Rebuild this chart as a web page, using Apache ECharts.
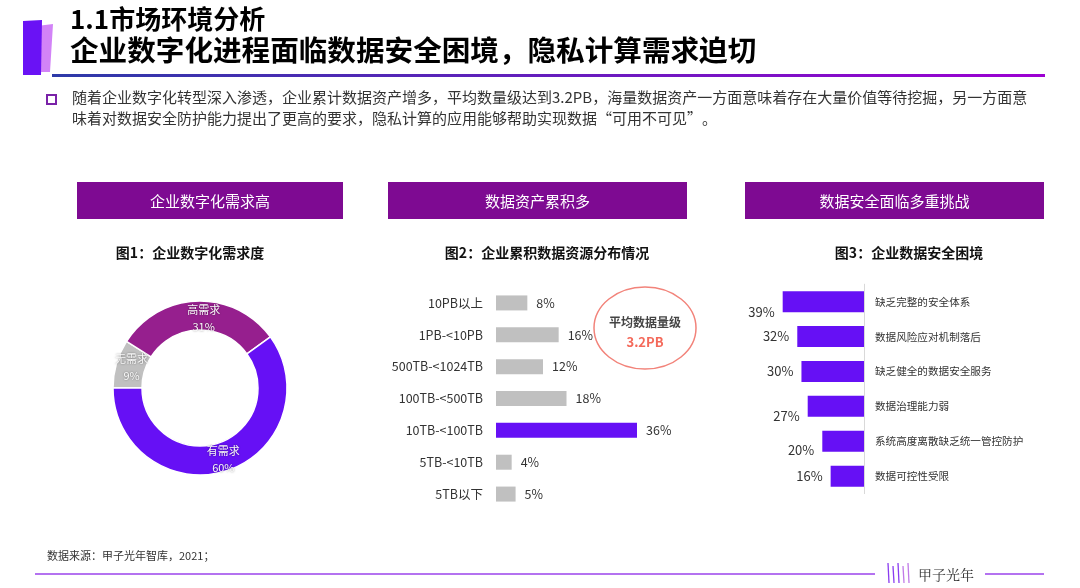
<!DOCTYPE html>
<html><head><meta charset="utf-8">
<script src="https://cdn.jsdelivr.net/npm/echarts@6/dist/echarts.min.js"></script>
<style>html,body{margin:0;padding:0;background:#fff}#c{width:1080px;height:588px}</style>
</head><body><div id="c"></div>
<script>
// ---- data ----
const demandNames = ['无需求', '高需求', '有需求'];
const demandValues = [9, 31, 60];

const volumeCats = ['10PB以上', '1PB-<10PB', '500TB-<1024TB', '100TB-<500TB', '10TB-<100TB', '5TB-<10TB', '5TB以下'];
const volumeValues = [8, 16, 12, 18, 36, 4, 5];
const avgVolume = ['平均数据量级', '3.2PB'];

const riskCats = ['缺乏完整的安全体系', '数据风险应对机制落后', '缺乏健全的数据安全服务', '数据治理能力弱', '系统高度离散缺乏统一管控防护', '数据可控性受限'];
const riskValues = [39, 32, 30, 27, 20, 16];

const titleLines = ['1.1市场环境分析', '企业数字化进程面临数据安全困境，隐私计算需求迫切'];
const paraLines = ['随着企业数字化转型深入渗透，企业累计数据资产增多，平均数量级达到3.2PB，海量数据资产一方面意味着存在大量价值等待挖掘，另一方面意',
                   '味着对数据安全防护能力提出了更高的要求，隐私计算的应用能够帮助实现数据“可用不可见”。'];
const boxTitles = ['企业数字化需求高', '数据资产累积多', '数据安全面临多重挑战'];
const chartTitles = ['图1：企业数字化需求度', '图2：企业累积数据资源分布情况', '图3：企业数据安全困境'];
const sourceText = '数据来源：甲子光年智库，2021；';
const brand = '甲子光年';

// ---- styles ----
const FONT = '"Noto Sans CJK SC","Noto Sans",sans-serif';
const VIOLET = '#6610f5';
const PLUM = '#961f8e';
const GRAY = '#c0c0c0';
const BOX = '#7e0a92';

const chart = echarts.init(document.getElementById('c'));

const boxes = [[77, 266], [388, 299], [745, 299]];
const titleX = [190, 547, 909];

const graphics = [];
// left mark
graphics.push({type:'polygon', shape:{points:[[37,26],[53,24],[50,72],[35,72]]}, style:{fill:'#d283f7'}});
graphics.push({type:'polygon', shape:{points:[[23,21],[42,20],[41,75],[23,75]]}, style:{fill:'#6a12f5'}});
// titles
graphics.push({type:'text', left:70, top:6, style:{text:titleLines[0], font:'bold 26px '+FONT, fill:'#000'}});
graphics.push({type:'text', left:70, top:36, style:{text:titleLines[1], font:'bold 28.6px '+FONT, fill:'#000'}});
// underline
graphics.push({type:'rect', shape:{x:52, y:74, width:993, height:3}, style:{fill:new echarts.graphic.LinearGradient(0,0,1,0,[{offset:0,color:'#2d3aa8'},{offset:1,color:'#9d00d2'}])}});
// bullet
graphics.push({type:'rect', shape:{x:47, y:95, width:9, height:9}, style:{fill:'none', stroke:'#7a22a8', lineWidth:2}});
graphics.push({type:'text', left:72, top:90, style:{text:paraLines[0], font:'15px '+FONT, fill:'#333'}});
graphics.push({type:'text', left:72, top:111, style:{text:paraLines[1], font:'15px '+FONT, fill:'#333'}});
// header boxes
boxes.forEach((b,i)=>{
  graphics.push({type:'rect', shape:{x:b[0], y:182, width:b[1], height:37}, style:{fill:BOX}});
  graphics.push({type:'text', x:b[0]+b[1]/2, y:201, style:{text:boxTitles[i], font:'15px '+FONT, fill:'#fff', textAlign:'center', textVerticalAlign:'middle'}});
  graphics.push({type:'text', x:titleX[i], y:253, style:{text:chartTitles[i], font:'bold 14px '+FONT, fill:'#111', textAlign:'center', textVerticalAlign:'middle'}});
});
// ellipse callout
graphics.push({type:'ellipse', shape:{cx:645, cy:328, rx:51, ry:41}, style:{fill:'none', stroke:'#f2837a', lineWidth:1.5}});
graphics.push({type:'text', x:645, y:322, style:{text:avgVolume[0], font:'bold 12px '+FONT, fill:'#444', textAlign:'center', textVerticalAlign:'middle'}});
graphics.push({type:'text', x:645, y:342, style:{text:avgVolume[1], font:'bold 13px '+FONT, fill:'#f4695a', textAlign:'center', textVerticalAlign:'middle'}});
// footer
graphics.push({type:'text', left:47, top:550, style:{text:sourceText, font:'11px '+FONT, fill:'#333'}});
graphics.push({type:'rect', shape:{x:35, y:573, width:840, height:2}, style:{fill:'#b472f0'}});
graphics.push({type:'rect', shape:{x:985, y:573, width:59, height:2}, style:{fill:'#b472f0'}});
[888, 893, 898, 903, 908].forEach((x,i)=>{
  graphics.push({type:'line', shape:{x1:x, y1:563+(i%2)*3, x2:x+1, y2:583}, style:{stroke:i<3?'#8a3cf0':'#c07ae8', lineWidth:1.3}});
});
graphics.push({type:'text', x:946, y:575, style:{text:brand, font:'14px "Noto Serif CJK SC",'+FONT, fill:'#333', textAlign:'center', textVerticalAlign:'middle'}});

const labelShift = [[0,10],[0,0],[0,0],[0,10],[0,9],[0,0]];
const pieLabelShift = [[4,0],[6,6],[0,0]];
const maxVol = Math.max(...volumeValues);

chart.setOption({
  animation: false,
  textStyle: {fontFamily: FONT},
  graphic: graphics,
  grid: [
    {left:496, top:287, width:141, height:223},
    {left:780.6, top:284.2, width:83.4, height:209.4}
  ],
  xAxis: [
    {gridIndex:0, type:'value', min:0, max:36, show:false},
    {gridIndex:1, type:'value', min:0, max:40, inverse:true, show:false}
  ],
  yAxis: [
    {gridIndex:0, type:'category', data:volumeCats, inverse:true,
     axisLine:{show:false}, axisTick:{show:false},
     axisLabel:{fontSize:12.5, color:'#333', margin:13}},
    {gridIndex:1, type:'category', data:riskCats, inverse:true, position:'right',
     axisLine:{show:true, onZero:false, lineStyle:{color:'#d9d9d9', width:1}}, axisTick:{show:false},
     axisLabel:{fontSize:10.6, color:'#333', margin:11}}
  ],
  series: [
    {type:'pie', center:[200,388], radius:[58,87], startAngle:180, clockwise:true,
     data: demandNames.map((n,i)=>({name:n, value:demandValues[i]})),
     color:[GRAY, PLUM, VIOLET],
     itemStyle:{borderColor:'#fff', borderWidth:1.5},
     label:{position:'inside', formatter:'{b}\n{c}%', color:'#fafafa', fontSize:11, lineHeight:17,
            overflow:'none', width:60, textShadowColor:'rgba(0,0,0,0.45)', textShadowBlur:2},
     labelLayout: p => ({dx: pieLabelShift[p.dataIndex][0], dy: pieLabelShift[p.dataIndex][1]}),
     labelLine:{show:false}},
    {type:'bar', xAxisIndex:0, yAxisIndex:0, data:volumeValues, barWidth:15,
     itemStyle:{color:p=>p.value===maxVol?VIOLET:GRAY},
     label:{show:true, position:'right', distance:9, formatter:'{c}%', fontSize:12.5, color:'#333'}},
    {type:'bar', xAxisIndex:1, yAxisIndex:1, barWidth:21,
     data: riskValues.map((v,i)=>({value:v, label:{offset:labelShift[i]}})),
     itemStyle:{color:VIOLET},
     label:{show:true, position:'left', distance:8, formatter:'{c}%', fontSize:13, color:'#333'}}
  ]
});
</script></body></html>
